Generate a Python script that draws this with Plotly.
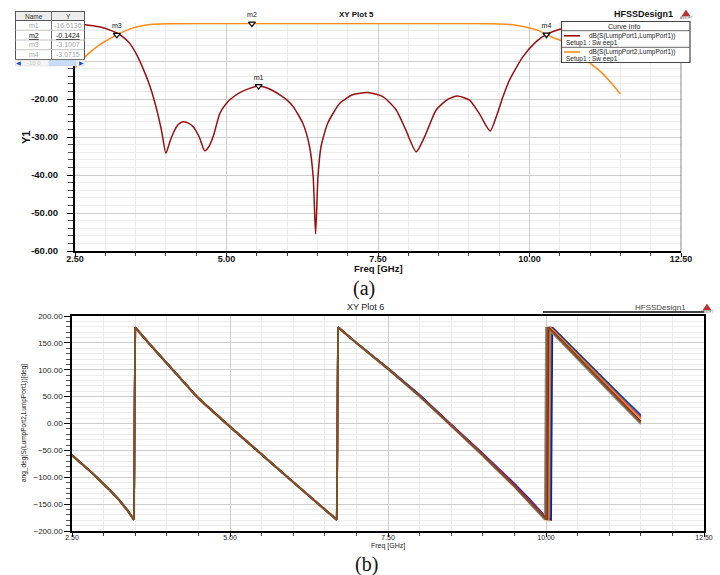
import plotly.graph_objects as go

W, H = 720, 575


def px(x):
    return x / W


def py(y):
    return 1 - y / H


FONT = "Liberation Sans"

# ---------------- (a) XY Plot 5 : magnitude ----------------
S11_FREQ = [2.50, 2.70, 2.90, 3.10, 3.20, 3.30, 3.40, 3.50, 3.56, 3.65, 3.74, 3.85, 3.93, 4.00,
            4.06, 4.12, 4.20, 4.28, 4.36, 4.45, 4.55, 4.64, 4.71, 4.78, 4.89, 5.00, 5.10, 5.22,
            5.38, 5.53, 5.70, 5.88, 6.00, 6.10, 6.26, 6.37, 6.43, 6.47, 6.51, 6.56, 6.67, 6.87,
            7.08, 7.33, 7.58, 7.80, 7.96, 8.13, 8.27, 8.46, 8.65, 8.81, 9.01, 9.17, 9.35, 9.47,
            9.56, 9.67, 9.89, 10.11, 10.28, 10.49, 10.75, 11.00, 11.25, 11.50]
S11_DB = [-0.2, -0.5, -1.0, -2.0, -2.7, -3.8, -5.3, -7.8, -9.7, -13.0, -16.8, -22.9, -28.5, -34.3,
          -31.5, -29.0, -26.8, -26.0, -26.3, -27.3, -30.0, -33.6, -32.5, -29.9, -23.8, -21.1, -19.6, -18.3,
          -17.2, -16.6, -17.3, -18.9, -20.3, -22.0, -26.4, -32.5, -40.4, -55.5, -40.4, -32.5, -26.4, -21.1,
          -18.9, -18.3, -19.4, -22.9, -28.2, -33.9, -29.9, -22.9, -20.1, -19.2, -20.3, -23.8, -28.4, -23.8,
          -19.5, -15.0, -8.9, -4.9, -3.0, -1.7, -1.0, -0.6, -0.4, -0.3]

S21_FREQ = [2.50, 2.60, 2.70, 2.80, 2.90, 3.00, 3.10, 3.19, 3.30, 3.40, 3.55, 3.74, 4.00, 5.00,
            5.42, 6.50, 8.00, 9.00, 9.40, 9.67, 9.85, 10.00, 10.15, 10.28, 10.40, 10.54, 10.70,
            10.87, 11.05, 11.20, 11.35, 11.50]
S21_DB = [-11.8, -10.0, -8.4, -7.0, -5.8, -4.8, -3.9, -3.1, -2.3, -1.6, -0.9, -0.4, -0.2, -0.15,
          -0.14, -0.12, -0.12, -0.15, -0.2, -0.4, -0.8, -1.3, -2.0, -3.07, -3.9, -4.8, -6.7,
          -8.9, -11.2, -13.2, -15.8, -18.7]

MARKER_NAMES = ["m1", "m2", "m3", "m4"]
MARKER_FREQ = [5.53, 5.42, 3.19, 10.28]
MARKER_DB = [-16.6136, -0.1424, -3.1007, -3.0715]

TOP_X_TICKS = [2.5, 5.0, 7.5, 10.0, 12.5]
TOP_Y_TICKS = [-60, -50, -40, -30, -20, -10, 0]
TOP_Y_LABELS = ["-60.00", "-50.00", "-40.00", "-30.00", "-20.00", "", ""]  # -10 / 0 hidden by marker table

# ---------------- (b) XY Plot 6 : phase ----------------
PH_FREQ = [2.50, 2.65, 2.80, 2.95, 3.10, 3.25, 3.38, 3.48, 3.50, 3.75, 4.00, 4.25, 4.50, 5.00,
           5.50, 6.00, 6.50, 6.69, 6.71, 7.00, 7.50, 8.00, 8.50, 9.00, 9.50, 9.75, 9.98,
           10.00, 10.02, 10.04, 10.06, 10.08, 10.10, 10.25, 10.50, 10.75, 11.00, 11.25, 11.50]

PH_TEAL = [-59, -74, -90, -107, -124, -143, -162, -179, 179, 145, 112, 79, 47, -6,
           -58, -109, -160, -179, 179, 150, 103, 53, -2, -56, -113, -143, -172,
           -175, -177, -178, -179, 179, 177, 160, 131, 102, 73, 45, 16]
PH_BLUE = [-59, -74, -90, -107, -124, -143, -162, -179, 179, 145, 112, 79, 47, -6,
           -58, -109, -160, -179, 179, 150, 103, 53, -2, -56, -112, -142, -172,
           -174, -176, -177, -178, -179, 179, 161, 131, 101, 72, 43, 14]
PH_GREEN = [-59, -74, -90, -107, -124, -143, -162, -179, 179, 145, 112, 79, 47, -6,
            -58, -109, -160, -179, 179, 150, 102, 52, -3, -58, -115, -146, -175,
            -177, -178, -179, 179, 177, 175, 158, 128, 99, 70, 41, 12]
PH_MAGENTA = [-59, -74, -90, -107, -124, -143, -162, -179, 179, 145, 112, 79, 47, -6,
              -58, -109, -160, -179, 179, 150, 102, 52, -2, -57, -114, -144, -173,
              -176, -178, 179, 177, 175, 173, 156, 127, 98, 69, 40, 11]
PH_ORANGE = [-59, -74, -90, -107, -124, -143, -162, -179, 179, 145, 112, 79, 47, -6,
             -58, -109, -160, -179, 179, 150, 102, 51, -4, -60, -117, -148, -176,
             -178, -179, -180, 179, 177, 175, 157, 127, 97, 68, 38, 9]
PH_GRAY = [-59, -74, -90, -107, -124, -143, -162, -179, 179, 145, 112, 79, 47, -6,
           -58, -109, -160, -179, 179, 149, 101, 50, -5, -60, -118, -149, -179,
           179, 177, 175, 173, 170, 168, 150, 119, 89, 59, 29, -1]
PH_RED = [-59, -74, -90, -107, -124, -143, -162, -179, 179, 145, 112, 79, 47, -6,
          -58, -109, -160, -179, 179, 150, 102, 52, -3, -58, -115, -146, -175,
          -177, -179, 179, 177, 174, 172, 154, 124, 94, 64, 34, 4]
PH_BROWN = [-59, -74, -90, -107, -124, -143, -162, -179, 179, 145, 112, 79, 47, -6,
            -58, -109, -160, -179, 179, 150, 102, 51, -4, -59, -117, -147, -176,
            -179, 179, 177, 175, 173, 171, 153, 122, 92, 62, 32, 2]

PH_SERIES = [PH_TEAL, PH_BLUE, PH_GREEN, PH_MAGENTA, PH_ORANGE, PH_GRAY, PH_RED, PH_BROWN]
PH_COLORS = ["#1aa6b8", "#1a1aa8", "#3c8c3c", "#c020c0", "#f08a1c", "#8c8c8c", "#b01818", "#7a5422"]

BOT_X_TICKS = [2.5, 5.0, 7.5, 10.0, 12.5]
BOT_Y_TICKS = [-200, -150, -100, -50, 0, 50, 100, 150, 200]

fig = go.Figure()

# top traces
fig.add_trace(go.Scatter(x=S21_FREQ, y=S21_DB, mode="lines", line=dict(color="#ff8c1a", width=1.5, shape="spline", smoothing=0.6),
                         xaxis="x", yaxis="y", showlegend=False, cliponaxis=False))
fig.add_trace(go.Scatter(x=S11_FREQ, y=S11_DB, mode="lines", line=dict(color="#9a1010", width=1.5, shape="spline", smoothing=0.6),
                         xaxis="x", yaxis="y", showlegend=False))
fig.add_trace(go.Scatter(x=MARKER_FREQ, y=MARKER_DB, mode="markers+text", text=MARKER_NAMES,
                         textposition="top center", textfont=dict(family=FONT, size=7, color="#111"),
                         marker=dict(symbol="triangle-down", size=6, color="white", line=dict(color="black", width=1.2)),
                         xaxis="x", yaxis="y", showlegend=False, cliponaxis=False))

# bottom traces
for vals, col in zip(PH_SERIES, PH_COLORS):
    fig.add_trace(go.Scatter(x=PH_FREQ, y=vals, mode="lines", line=dict(color=col, width=1.8),
                             xaxis="x2", yaxis="y2", showlegend=False))

TOP_L, TOP_R, TOP_T, TOP_B = 75, 681, 23, 251
BOT_L, BOT_R, BOT_T, BOT_B = 72, 704, 316, 531

common_minor_grid = "#ececec"
common_major_grid = "#cdcdcd"

fig.update_layout(
    width=W, height=H, margin=dict(l=0, r=0, t=0, b=0),
    paper_bgcolor="white", plot_bgcolor="white",
    font=dict(family=FONT, color="#111"),
    xaxis=dict(domain=[px(TOP_L), px(TOP_R)], range=[2.5, 12.5], anchor="y", automargin=False,
               tickvals=TOP_X_TICKS, tickformat=".2f", ticks="outside", ticklen=4, tickcolor="black",
               ticklabelstandoff=-6,
               showline=True, linecolor="black", linewidth=2, mirror=False,
               showgrid=True, gridcolor=common_major_grid, gridwidth=1, zeroline=False,
               minor=dict(dtick=0.5, ticks="outside", ticklen=3, tickcolor="#444", showgrid=True, gridcolor=common_minor_grid),
               tickfont=dict(family=FONT, size=9, weight="bold", color="#111")),
    yaxis=dict(domain=[py(TOP_B), py(TOP_T)], range=[-60, 0], anchor="x", automargin=False,
               tickvals=TOP_Y_TICKS, ticktext=TOP_Y_LABELS, ticks="outside", ticklen=6, tickcolor="black",
               ticklabelstandoff=7,
               showline=True, linecolor="black", linewidth=2,
               showgrid=True, gridcolor=common_major_grid, zeroline=False,
               minor=dict(dtick=2, ticks="outside", ticklen=5, tickcolor="#555", showgrid=True, gridcolor=common_minor_grid),
               tickfont=dict(family=FONT, size=9.5, weight="bold", color="#111")),
    xaxis2=dict(domain=[px(BOT_L), px(BOT_R)], range=[2.5, 12.5], anchor="y2", automargin=False,
                tickvals=BOT_X_TICKS, tickformat=".2f", ticks="outside", ticklen=4, tickcolor="black",
                ticklabelstandoff=-5,
                showline=True, linecolor="black", linewidth=1.5, mirror=True,
                showgrid=True, gridcolor=common_major_grid, zeroline=False,
                minor=dict(dtick=0.5, ticks="outside", ticklen=3, tickcolor="#444", showgrid=True, gridcolor=common_minor_grid),
                tickfont=dict(family=FONT, size=7, color="#222")),
    yaxis2=dict(domain=[py(BOT_B), py(BOT_T)], range=[-200, 200], anchor="x2", automargin=False,
                tickvals=BOT_Y_TICKS, tickformat=".2f", ticks="outside", ticklen=6, tickcolor="black",
                showline=True, linecolor="black", linewidth=1.5, mirror=True,
                showgrid=True, gridcolor=common_major_grid, zeroline=False,
                minor=dict(dtick=10, ticks="outside", ticklen=4, tickcolor="#555", showgrid=True, gridcolor=common_minor_grid),
                tickfont=dict(family=FONT, size=8, color="#222")),
)

shapes = []
ann = []


def rect(x0, y0, x1, y1, line="#555", lw=1, fill="white"):
    shapes.append(dict(type="rect", xref="paper", yref="paper", x0=px(x0), x1=px(x1), y0=py(y0), y1=py(y1),
                       line=dict(color=line, width=lw), fillcolor=fill, layer="above"))


def hline(x0, x1, y, color="#555", lw=1):
    shapes.append(dict(type="line", xref="paper", yref="paper", x0=px(x0), x1=px(x1), y0=py(y), y1=py(y),
                       line=dict(color=color, width=lw), layer="above"))


def vline(x, y0, y1, color="#555", lw=1):
    shapes.append(dict(type="line", xref="paper", yref="paper", x0=px(x), x1=px(x), y0=py(y0), y1=py(y1),
                       line=dict(color=color, width=lw), layer="above"))


def text(x, y, s, size=7, color="#111", bold=False, xanchor="center", family=FONT, angle=0):
    ann.append(dict(xref="paper", yref="paper", x=px(x), y=py(y), text=s, showarrow=False,
                    xanchor=xanchor, yanchor="middle", textangle=angle,
                    font=dict(family=family, size=size, color=color, weight="bold" if bold else "normal")))


# top plot right border
vline(TOP_R, TOP_T, TOP_B, color="#888", lw=1)

# axis titles
text(378, 268.5, "Freq [GHz]", size=9.5, bold=True)
text(26, 137, "Y1", size=11, bold=True, angle=-90)
text(388, 545.5, "Freq [GHz]", size=7, color="#222")
text(24, 423, "ang_deg(S(LumpPort2,LumpPort1))[deg]", size=6.5, color="#222", angle=-90)

# titles
text(356, 15, "XY Plot 5", size=8, bold=True)
text(643, 14, "HFSSDesign1", size=9, bold=True)
text(365, 307, "XY Plot 6", size=9, color="#222")
text(660, 308, "HFSSDesign1", size=8, color="#444")
hline(543, 704, 312, color="black", lw=1.5)

# ansoft logos
for lx, ly in [(686, 15), (707, 309)]:
    shapes.append(dict(type="path", xref="paper", yref="paper",
                       path=f"M {px(lx-4)} {py(ly+1)} L {px(lx)} {py(ly-5)} L {px(lx+4)} {py(ly+1)} Z",
                       fillcolor="#c03030", line=dict(color="#903030", width=0.5), layer="above"))
    text(lx, ly + 3, "ANSOFT", size=3, color="#555")

# captions
text(364, 288, "(a)", size=20, family="Liberation Serif")
text(366, 564, "(b)", size=20, family="Liberation Serif")

# marker table
rect(15.5, 11.5, 84.5, 59.5, line="#555", lw=1, fill="white")
rect(15.5, 11.5, 84.5, 20.5, line="#555", lw=1, fill="#ededed")
vline(51.5, 11.5, 59.5, color="#777")
for yy in [30.2, 40.0, 49.7]:
    hline(15.5, 84.5, yy, color="#c4c4c4")
text(33.5, 16, "Name", size=6.5, color="#333")
text(68, 16, "Y", size=6.5, color="#333")
row_y = [25.5, 35.2, 45.0, 54.6]
for name, val, yy in zip(MARKER_NAMES, MARKER_DB, row_y):
    if name == "m2":
        text(33.5, yy, "<u>" + name + "</u>", size=7, color="#111")
        text(68, yy, "<u>" + f"{val:.4f}" + "</u>", size=7, color="#111")
    else:
        text(33.5, yy, name, size=7, color="#a8a8a8")
        text(68, yy, f"{val:.4f}", size=7, color="#a8a8a8")
# scrollbar row
rect(15.5, 60, 84.5, 66, line="#d0d0d0", lw=0.5, fill="#f4f4f4")
rect(49, 60.5, 76, 65.5, line="#b8cbe8", lw=0.5, fill="#c9dbf5")
text(34, 63, "-10.0", size=6, color="#c8c8c8")
text(18.5, 63, "◀", size=5.5, color="#1a4fd0")
text(81, 63, "▶", size=5.5, color="#1a4fd0")

# curve info legend
rect(561.5, 21.5, 690, 62.5, line="#444", lw=1.2, fill="white")
text(624, 26.5, "Curve Info", size=7, color="#222")
hline(561.5, 690, 30.7, color="#666")
hline(561.5, 690, 47.3, color="#666")
hline(564, 580, 35.8, color="#9a1010", lw=1.6)
text(587, 35.8, "dB(S(LumpPort1,LumpPort1))", size=6.5, color="#222", xanchor="left")
text(564, 42.5, "Setup1 : Sw eep1", size=6.5, color="#222", xanchor="left")
hline(564, 580, 52.0, color="#ff8c1a", lw=1.6)
text(587, 52.0, "dB(S(LumpPort2,LumpPort1))", size=6.5, color="#222", xanchor="left")
text(564, 58.7, "Setup1 : Sw eep1", size=6.5, color="#222", xanchor="left")

fig.update_layout(shapes=shapes, annotations=ann)

fig.write_html("out.html",
               config={"displayModeBar": False},
               post_script="document.body.style.margin='0px';document.body.style.padding='0px';")
